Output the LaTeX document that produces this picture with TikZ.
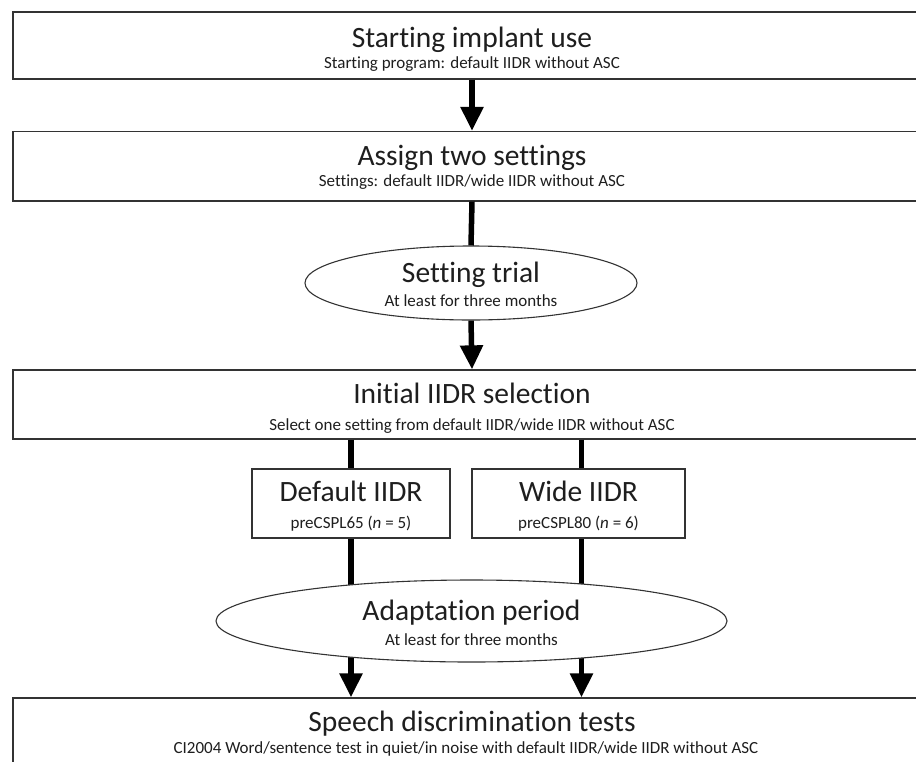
\documentclass[tikz,border=0pt]{standalone}
\usepackage{fontspec}
\setmainfont{Carlito}[RawFeature={-liga}]
\usetikzlibrary{arrows.meta,shapes.geometric,calc}
\pgfdeclarelayer{bg}
\pgfsetlayers{bg,main}
\definecolor{bordercol}{HTML}{333333}
\definecolor{txtcol}{HTML}{1E1E1E}
\tikzset{
  widebox/.style={draw=bordercol,line width=1.3pt,fill=white,rectangle,inner sep=0pt,minimum width=918pt},
  smallbox/.style={draw=bordercol,line width=1.1pt,fill=white,rectangle,inner sep=0pt},
  ovalbox/.style={draw=bordercol,line width=1.1pt,fill=white,ellipse,inner sep=0pt},
  ttl/.style={anchor=base,inner sep=0pt,text=txtcol,font=\fontsize{29.5}{31}\selectfont},
  sub/.style={anchor=base,inner sep=0pt,text=txtcol,font=\fontsize{17}{19}\selectfont},
  subsm/.style={anchor=base,inner sep=0pt,text=txtcol,font=\fontsize{17}{19}\selectfont},
  conn/.style={line width=5.5pt,black},
  arr/.style={line width=5.5pt,black,-{Triangle[width=22pt,length=24pt]}}
}
\begin{document}
\begin{tikzpicture}[x=1pt,y=-1pt]
\useasboundingbox (0,0) rectangle (916,761);
\clip (0,0) rectangle (916,761);
% shapes
\node[widebox,minimum height=67pt] (b1) at (472,45.5) {};
\node[widebox,minimum height=69.5pt] (b2) at (472,166.25) {};
\node[ovalbox,minimum width=332pt,minimum height=74pt] (e1) at (471,283) {};
\node[widebox,minimum height=69pt] (b3) at (472,404.5) {};
\node[smallbox,minimum width=198pt,minimum height=69pt] (d) at (351,503.5) {};
\node[smallbox,minimum width=213pt,minimum height=69pt] (w) at (578.5,503.5) {};
\node[ovalbox,minimum width=511pt,minimum height=82pt] (e2) at (471.5,621) {};
\node[widebox,minimum height=90pt] (b4) at (472,743) {};
\coordinate (wx) at ($(w.center)+(3,0)$);
% texts
\node[ttl] (t1) at (472,47) {Starting implant use};
\node[sub] (s1) at (472,68) {Starting program: default IIDR without ASC};
\node[ttl] (t2) at (472,165) {Assign two settings};
\node[sub] (s2) at (472,186) {Settings: default IIDR/wide IIDR without ASC};
\node[ttl] (t3) at (471,282) {Setting trial};
\node[sub] (s3) at (471,306) {At least for three months};
\node[ttl] (t4) at (472,403) {Initial IIDR selection};
\node[sub] (s4) at (472,430) {Select one setting from default IIDR/wide IIDR without ASC};
\node[ttl] (t5) at (351,501) {Default IIDR};
\node[subsm] (s5) at (351,528) {preCSPL65 (\textit{n} = 5)};
\node[ttl] (t6) at (578.5,501) {Wide IIDR};
\node[subsm] (s6) at (578.5,528) {preCSPL80 (\textit{n} = 6)};
\node[ttl] (t7) at (471.5,620) {Adaptation period};
\node[sub] (s7) at (471.5,645) {At least for three months};
\node[ttl] (t8) at (472,731) {Speech discrimination tests};
\node[sub] (s8) at (466,753) {CI2004 Word/sentence test in quiet/in noise with default IIDR/wide IIDR without ASC};
% connectors
\draw[arr] (b1.south) -- (b2.north);
\draw[conn] (b2.south) -- (e1.north);
\draw[arr] (e1.south) -- (b3.north);
\draw[conn] (b3.south -| d.north) -- (d.north);
\draw[conn] (b3.south -| wx) -- (w.north -| wx);
\begin{pgfonlayer}{bg}
\draw[conn] (d.south) -- (d.south |- e2.center);
\draw[conn] (w.south -| wx) -- (e2.center -| wx);
\draw[arr] (d.south |- e2.center) -- (d.south |- b4.north);
\draw[arr] (e2.center -| wx) -- (b4.north -| wx);
\end{pgfonlayer}
\end{tikzpicture}
\end{document}
